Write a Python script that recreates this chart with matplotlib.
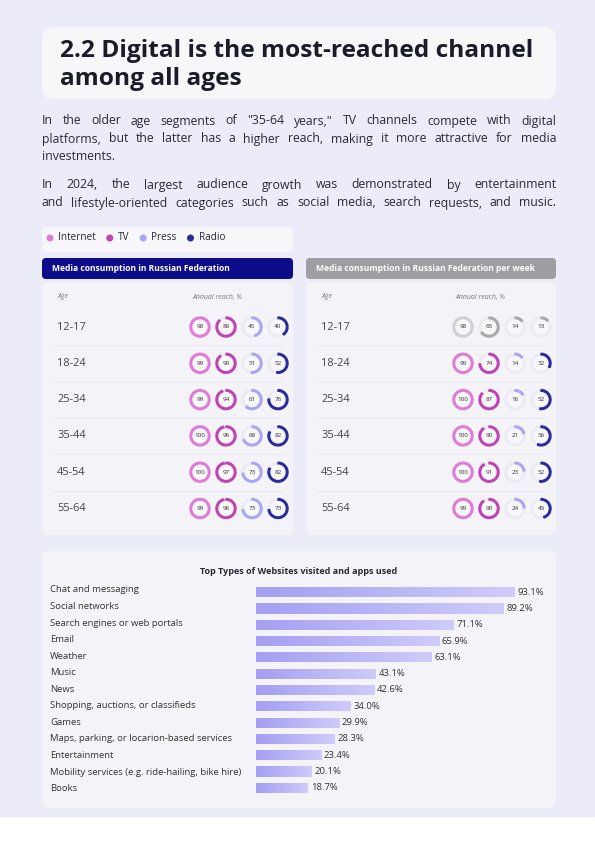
import matplotlib
matplotlib.use("Agg")
import matplotlib.pyplot as plt
from matplotlib.patches import FancyBboxPatch, Wedge, Circle, Rectangle
import numpy as np
from matplotlib.colors import LinearSegmentedColormap

ages = ["12-17", "18-24", "25-34", "35-44", "45-54", "55-64"]
annual_internet = [98, 99, 99, 100, 100, 99]
annual_tv = [88, 90, 94, 96, 97, 96]
annual_press = [45, 51, 61, 68, 73, 73]
annual_radio = [40, 52, 76, 82, 82, 73]
weekly_internet = [98, 99, 100, 100, 100, 99]
weekly_tv = [65, 74, 87, 90, 91, 90]
weekly_press = [14, 14, 16, 21, 23, 24]
weekly_radio = [13, 32, 52, 56, 52, 45]
sites = ["Chat and messaging", "Social networks", "Search engines or web portals", "Email",
         "Weather", "Music", "News", "Shopping, auctions, or classifieds", "Games",
         "Maps, parking, or locarion-based services", "Entertainment",
         "Mobility services (e.g. ride-hailing, bike hire)", "Books"]
site_vals = [93.1, 89.2, 71.1, 65.9, 63.1, 43.1, 42.6, 34.0, 29.9, 28.3, 23.4, 20.1, 18.7]
legend_labels = ["Internet", "TV", "Press", "Radio"]

plt.rcParams['font.family'] = ['Open Sans', 'DejaVu Sans']
W, H = 595, 843
fig = plt.figure(figsize=(W/100, H/100), dpi=100)
ax = fig.add_axes([0, 0, 1, 1])
ax.set_xlim(0, W); ax.set_ylim(H, 0); ax.axis("off")
PT = 0.72
BG = "#ecebf8"
ax.add_patch(Rectangle((0, 0), W, 816, color=BG, zorder=0))

def box(x0, y0, x1, y1, c, r=8, z=1):
    ax.add_patch(FancyBboxPatch((x0+r, y0+r), x1-x0-2*r, y1-y0-2*r,
                 boxstyle=f"round,pad={r}", fc=c, ec="none", zorder=z))

box(42, 27, 556, 99, "#f7f7fa", r=12)
ax.text(60, 51, "2.2 Digital is the most-reached channel", fontsize=24.5*PT, fontweight="bold",
        color="#1c1c28", va="center")
ax.text(60, 79, "among all ages", fontsize=24.5*PT, fontweight="bold", color="#1c1c28", va="center")

fig.canvas.draw()
rend = fig.canvas.get_renderer()
def justify(line, y, x0=42, x1=556, just=True):
    words = line.split(" ")
    ts = [ax.text(0, y, w, fontsize=12.3*PT, color="#2a2a35", va="center") for w in words]
    ws = [t.get_window_extent(rend).width for t in ts]
    gap = (x1 - x0 - sum(ws)) / (len(words)-1) if just else 3.4
    x = x0
    for t, w in zip(ts, ws):
        t.set_x(x); x += w + gap

justify('In the older age segments of "35-64 years," TV channels compete with digital', 121)
justify('platforms, but the latter has a higher reach, making it more attractive for media', 139)
justify('investments.', 157, just=False)
justify('In 2024, the largest audience growth was demonstrated by entertainment', 185)
justify('and lifestyle-oriented categories such as social media, search requests, and music.', 203)

C_INT, C_TV, C_PR, C_RA = "#e07ad6", "#c043b3", "#a9a5f5", "#2b2b9c"
GREY = "#a8a8ac"
TRACK = "#ebebf1"

box(42, 227, 293, 252, "#f7f7fa", r=5)
lx = 50
for lab, c in zip(legend_labels, [C_INT, C_TV, C_PR, C_RA]):
    ax.add_patch(Circle((lx, 238), 2.8, color=c, zorder=3))
    t = ax.text(lx+8, 238, lab, fontsize=10*PT, color="#2a2a35", va="center")
    lx += 8 + t.get_window_extent(rend).width + 14

def table(x0, x1, title, hc, vals, ring_x, grey_first=False):
    box(x0, 258, x1, 279, hc, r=4, z=2)
    ax.text(x0+10, 268.5, title, fontsize=8.5*PT, color="white", fontweight="bold", va="center", zorder=3)
    box(x0, 282, x1, 535, "#f4f4f8", r=6)
    ax.text(x0+15, 297, "Age", fontsize=7*PT, style="italic", color="#777", va="center")
    ax.text(ring_x[0]-8, 297, "Annual reach, %", fontsize=7*PT, style="italic", color="#777", va="center")
    for i, age in enumerate(ages):
        y = 327 + i*36.3
        if i > 0:
            ax.plot([x0+12, x1-12], [y-18, y-18], color="#e6e6ee", lw=0.8, zorder=2)
        ax.text(x0+15, y, age, fontsize=11*PT, color="#444", va="center", zorder=3)
        for j, (cx, series) in enumerate(zip(ring_x, vals)):
            v = series[i]
            c = [C_INT, C_TV, C_PR, C_RA][j]
            if grey_first and i == 0:
                c = ["#d0d0d4", GREY, GREY, GREY][j]
            ax.add_patch(Circle((cx, y), 10, color=TRACK, zorder=3))
            ax.add_patch(Wedge((cx, y), 10, -90, -90+3.6*v, width=3, color=c, zorder=4))
            ax.add_patch(Circle((cx, y), 7, color="#f7f7fa", zorder=4))
            ax.text(cx, y, str(v), fontsize=6.3*PT, color="#333", ha="center", va="center", zorder=5)

table(42, 293, "Media consumption in Russian Federation", "#0d0d8c",
      [annual_internet, annual_tv, annual_press, annual_radio], [200, 226, 252, 278])
table(306, 556, "Media consumption in Russian Federation per week", "#9d9da2",
      [weekly_internet, weekly_tv, weekly_press, weekly_radio], [463, 489, 515, 541], grey_first=True)

box(42, 551, 556, 808, "#f4f4f8", r=8)
ax.text(299, 571, "Top Types of Websites visited and apps used", fontsize=9*PT,
        fontweight="bold", color="#2a2a35", ha="center", va="center")
bx = fig.add_axes([256/W, 1-796/H, (556-256)/W, (796-584)/H])
bx.set_xlim(0, 300/2.78); bx.set_ylim(len(sites)-0.5, -0.5); bx.axis("off")
bars = bx.barh(list(range(len(sites))), site_vals, height=0.62, color="#b4b0f6")
grad = np.linspace(0, 1, 256).reshape(1, -1)
cm = LinearSegmentedColormap.from_list("g", ["#a49ff2", "#cfcbfa"])
for b in bars:
    bb = b.get_bbox()
    im = bx.imshow(grad, cmap=cm, extent=[bb.x0, bb.x1, bb.y1, bb.y0], aspect="auto", zorder=2)
    im.set_clip_path(b)
for i, (s, v) in enumerate(zip(sites, site_vals)):
    bx.text(v + 1, i, f"{v:.1f}%", fontsize=9.5*PT, color="#333", va="center")
    ax.text(50, 590 + i*16.55, s, fontsize=9.5*PT, color="#333", va="center")
bx.set_xlim(0, 300/2.78)

fig.savefig("out.png", dpi=100)
